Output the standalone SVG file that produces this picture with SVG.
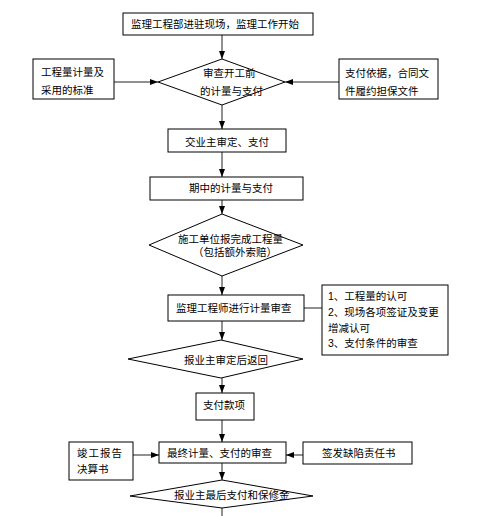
<svg xmlns="http://www.w3.org/2000/svg" width="502" height="516" viewBox="0 0 502 516">
<style>
.n{fill:#fff;stroke:#000;stroke-width:1}
.t{font-family:"Liberation Sans","Noto Sans CJK SC",sans-serif;font-size:10.5px;fill:#000}
.c{stroke:#222;stroke-width:1;fill:none}
</style>
<defs>
<marker id="ah" markerUnits="userSpaceOnUse" markerWidth="8" markerHeight="8" viewBox="0 0 8 8" refX="8" refY="4" orient="auto">
<path d="M0,1 L8,4 L0,7 Z" fill="#000"/>
</marker>
</defs>
<rect width="502" height="516" fill="#fff"/>
<g id="connectors">
<line class="c" x1="222" y1="35" x2="222" y2="59" marker-end="url(#ah)"/>
<line class="c" x1="114" y1="82" x2="158" y2="82" marker-end="url(#ah)"/>
<line class="c" x1="339" y1="82" x2="285" y2="82" marker-end="url(#ah)"/>
<line class="c" x1="222" y1="105" x2="222" y2="129" marker-end="url(#ah)"/>
<line class="c" x1="222" y1="152" x2="222" y2="177" marker-end="url(#ah)"/>
<line class="c" x1="222" y1="200" x2="222" y2="214" marker-end="url(#ah)"/>
<line class="c" x1="222" y1="276" x2="222" y2="295" marker-end="url(#ah)"/>
<line class="c" x1="304" y1="308" x2="322" y2="308"/>
<line class="c" x1="222" y1="321" x2="222" y2="340" marker-end="url(#ah)"/>
<line class="c" x1="222" y1="378" x2="222" y2="393" marker-end="url(#ah)"/>
<line class="c" x1="222" y1="420" x2="222" y2="442" marker-end="url(#ah)"/>
<line class="c" x1="133" y1="455" x2="159" y2="455" marker-end="url(#ah)"/>
<line class="c" x1="303" y1="455" x2="286" y2="455" marker-end="url(#ah)"/>
<line class="c" x1="222" y1="463" x2="222" y2="480" marker-end="url(#ah)"/>
<line class="c" x1="222" y1="508" x2="222" y2="516"/>
</g>
<g id="start">
<rect class="n" x="123" y="13" width="190" height="22"/>
<text class="t" x="131" y="28">监理工程部进驻现场，监理工作开始</text>
</g>
<g id="standard">
<rect class="n" x="33" y="59" width="81" height="40"/>
<text class="t" x="41" y="76">工程量计量及</text>
<text class="t" x="41" y="94">采用的标准</text>
</g>
<g id="review-start">
<polygon class="n" points="222,59 285,82 222,105 158,82"/>
<text class="t" x="203" y="76.5">审查开工前</text>
<text class="t" x="200" y="94.5">的计量与支付</text>
</g>
<g id="basis">
<rect class="n" x="339" y="59" width="99" height="40"/>
<text class="t" x="345" y="76.5">支付依据，合同文</text>
<text class="t" x="345" y="94.5">件履约担保文件</text>
</g>
<g id="owner-approve">
<rect class="n" x="168" y="129" width="118" height="23"/>
<text class="t" x="185" y="145.5">交业主审定、支付</text>
</g>
<g id="interim">
<rect class="n" x="150" y="177" width="153" height="23"/>
<text class="t" x="189" y="192">期中的计量与支付</text>
</g>
<g id="contractor-report">
<polygon class="n" points="222,214 303,245 222,276 149,245"/>
<text class="t" x="178" y="243">施工单位报完成工程量</text>
<text class="t" x="193" y="256">（包括额外索赔）</text>
</g>
<g id="engineer-review">
<rect class="n" x="168" y="295" width="136" height="26"/>
<text class="t" x="176" y="312">监理工程师进行计量审查</text>
</g>
<g id="review-items">
<rect class="n" x="322" y="285" width="126" height="70"/>
<text class="t" x="328" y="300">1、工程量的认可</text>
<text class="t" x="328" y="316">2、现场各项签证及变更</text>
<text class="t" x="328" y="332">增减认可</text>
<text class="t" x="328" y="347">3、支付条件的审查</text>
</g>
<g id="owner-return">
<polygon class="n" points="221,340 303,359 221,378 128,359"/>
<text class="t" x="184" y="364">报业主审定后返回</text>
</g>
<g id="payment">
<rect class="n" x="196" y="393" width="58" height="27"/>
<text class="t" x="203" y="409">支付款项</text>
</g>
<g id="final-report">
<rect class="n" x="69" y="442" width="64" height="38"/>
<text class="t" x="77" y="457" textLength="45" lengthAdjust="spacing">竣工报告</text>
<text class="t" x="77" y="473">决算书</text>
</g>
<g id="final-review">
<rect class="n" x="159" y="442" width="127" height="21"/>
<text class="t" x="167" y="457">最终计量、支付的审查</text>
</g>
<g id="defect">
<rect class="n" x="303" y="442" width="109" height="22"/>
<text class="t" x="322" y="457">签发缺陷责任书</text>
</g>
<g id="final-payment">
<polygon class="n" points="222,480 313,496 222,508 130,496"/>
<text class="t" x="174" y="499">报业主最后支付和保修金</text>
</g>
</svg>
